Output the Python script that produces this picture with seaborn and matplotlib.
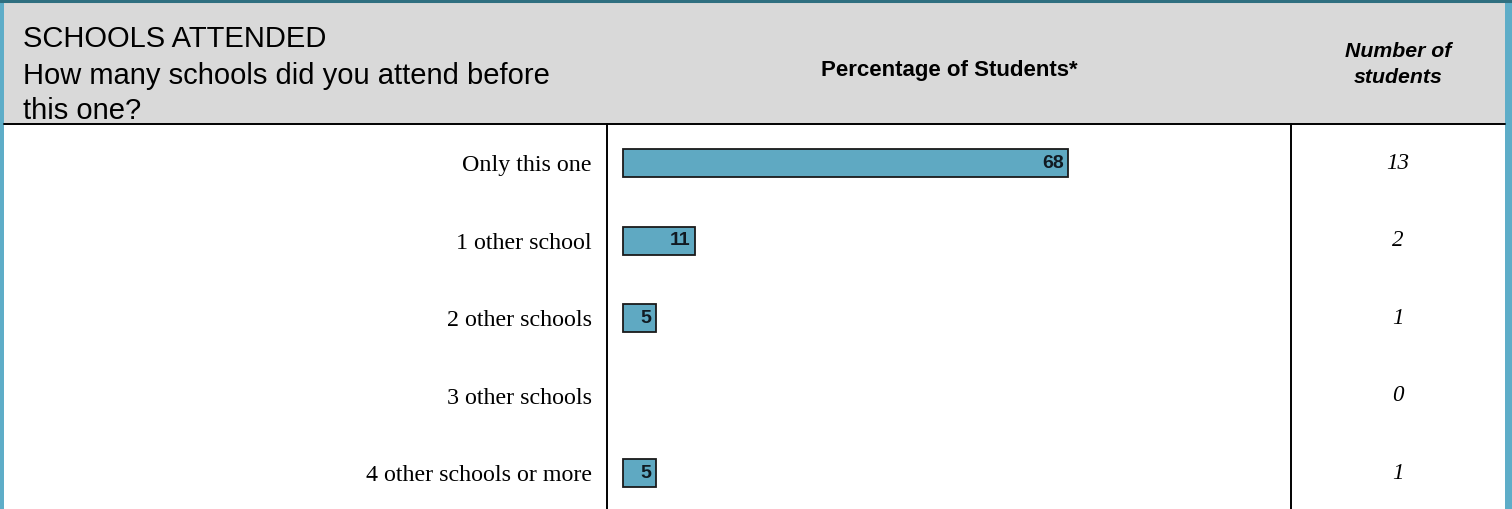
import matplotlib
matplotlib.use("Agg")
import matplotlib.pyplot as plt
import seaborn as sns
import pandas as pd
from matplotlib.lines import Line2D
from matplotlib.patches import Rectangle

categories = ["Only this one", "1 other school", "2 other schools", "3 other schools", "4 other schools or more"]
percentages = [68, 11, 5, 0, 5]
counts = [13, 2, 1, 0, 1]

title = "SCHOOLS ATTENDED"
question_lines = ["How many schools did you attend before", "this one?"]
col_header = "Percentage of Students*"
count_header_lines = ["Number of", "students"]

sns.set_theme(style="white")
plt.rcParams['font.family'] = ['Liberation Sans', 'DejaVu Sans']
plt.rcParams['text.color'] = 'black'
plt.rcParams['ytick.color'] = 'black'

W, H = 1512, 509
fig = plt.figure(figsize=(W / 100, H / 100), dpi=100)
fig.patch.set_facecolor("white")

def fx(px):
    return px / W

def fy(py):
    return 1 - py / H

# header background
fig.add_artist(Rectangle((fx(4), fy(124)), fx(1505) - fx(4), fy(2) - fy(124),
                         transform=fig.transFigure, facecolor="#d9d9d9", edgecolor="none", zorder=0))
# borders
fig.add_artist(Line2D([fx(0), fx(1512)], [fy(1), fy(1)], transform=fig.transFigure, color="#2f6f80", lw=2.2))
fig.add_artist(Rectangle((0, 0), fx(4), 1, transform=fig.transFigure, facecolor="#5eadc8", edgecolor="none"))
fig.add_artist(Rectangle((fx(1505), 0), fx(7), 1, transform=fig.transFigure, facecolor="#5eadc8", edgecolor="none"))
fig.add_artist(Line2D([fx(4), fx(1505)], [fy(124), fy(124)], transform=fig.transFigure, color="black", lw=1.4))
for xv in (607, 1291):
    fig.add_artist(Line2D([fx(xv), fx(xv)], [fy(124), 0], transform=fig.transFigure, color="black", lw=1.4))

# header texts
fig.text(fx(23), fy(47), title, ha="left", va="baseline", fontsize=21, color="black")
for line, base in zip(question_lines, (84, 119)):
    fig.text(fx(23), fy(base), line, ha="left", va="baseline", fontsize=21, color="black")
fig.text(fx(949), fy(76), col_header, ha="center", va="baseline", fontsize=16, fontweight="bold")
for line, base in zip(count_header_lines, (57, 83)):
    fig.text(fx(1398), fy(base), line, ha="center", va="baseline", fontsize=15.3,
             fontweight="bold", fontstyle="italic")

# bars
ax = fig.add_axes([fx(607), 0, fx(1291) - fx(607), fy(124)])
df = pd.DataFrame({"category": categories, "pct": percentages})
sns.barplot(data=df, x="pct", y="category", order=categories, orient="h", ax=ax,
            color="#5fa9c2", edgecolor="#1a1a1a", linewidth=1.3, width=0.36, saturation=1)
for p in ax.patches:
    if p.get_width() == 0:
        p.set_visible(False)
ax.set_xlim(-2.45, 102.1)
ax.set_ylim(4.46, -0.503)
ax.set_xlabel("")
ax.set_ylabel("")
ax.set_xticks([])
ax.set_yticks(range(len(categories)))
ax.set_yticklabels(categories, family="Liberation Serif", fontsize=17.3, color="black")
ax.tick_params(axis="y", length=0, pad=11)
for s in ax.spines.values():
    s.set_visible(False)
ax.patch.set_alpha(0)

for i, v in enumerate(percentages):
    if v > 0:
        ax.annotate(str(v), xy=(v, i), xytext=(-3, 0), textcoords="offset points",
                    ha="right", va="center", fontsize=14, fontweight="bold", color="#111a22")

# counts column
ax2 = fig.add_axes([fx(1291), 0, fx(1505) - fx(1291), fy(124)])
ax2.set_xlim(0, 1)
ax2.set_ylim(4.46, -0.503)
ax2.axis("off")
for i, c in enumerate(counts):
    ax2.text(0.5, i, str(c), ha="center", va="center", family="Liberation Serif",
             fontstyle="italic", fontsize=16.6, color="black")

fig.savefig("out.png", dpi=100)
